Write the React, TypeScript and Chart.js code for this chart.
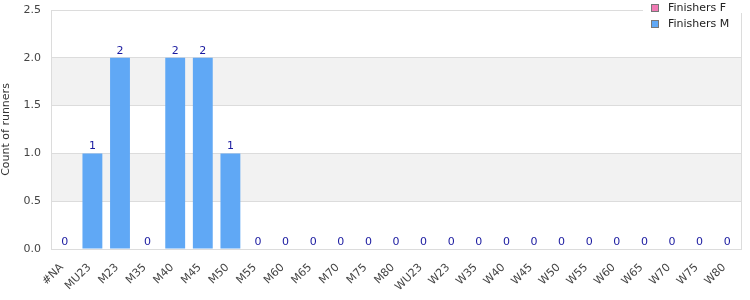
import React, { useEffect, useRef } from "react";
import { Chart, registerables } from "chart.js";

Chart.register(...registerables);

const categories = ["#NA", "MU23", "M23", "M35", "M40", "M45", "M50", "M55", "M60", "M65", "M70", "M75", "M80", "WU23", "W23", "W35", "W40", "W45", "W50", "W55", "W60", "W65", "W70", "W75", "W80"];
const finishersF = [0, 0, 0, 0, 0, 0, 0, 0, 0, 0, 0, 0, 0, 0, 0, 0, 0, 0, 0, 0, 0, 0, 0, 0, 0];
const finishersM = [0, 1, 2, 0, 2, 2, 1, 0, 0, 0, 0, 0, 0, 0, 0, 0, 0, 0, 0, 0, 0, 0, 0, 0, 0];
const seriesNames = ["Finishers F", "Finishers M"];
const seriesColors = ["#f07ab4", "#60a8f5"];
const yTitle = "Count of runners";

const FONT = "'DejaVu Sans', Verdana, sans-serif";

const bandsPlugin = {
  id: "bands",
  beforeDraw(chart: any) {
    const { ctx, chartArea } = chart;
    const y = chart.scales.y;
    ctx.save();
    ctx.fillStyle = "#f2f2f2";
    const bands = [[0.5, 1.0], [1.5, 2.0]];
    for (const [a, b] of bands) {
      const y1 = y.getPixelForValue(b);
      const y2 = y.getPixelForValue(a);
      ctx.fillRect(chartArea.left, y1, chartArea.right - chartArea.left, y2 - y1);
    }
    ctx.restore();
  },
  afterDraw(chart: any) {
    const { ctx, chartArea } = chart;
    ctx.save();
    ctx.strokeStyle = "#dcdcdc";
    ctx.lineWidth = 1;
    ctx.strokeRect(Math.round(chartArea.left) + 0.5, Math.round(chartArea.top) + 0.5, Math.round(chartArea.right - chartArea.left), Math.round(chartArea.bottom - chartArea.top));
    // legend background
    ctx.fillStyle = "#ffffff";
    ctx.fillRect(643, 0, 107, 13);
    ctx.font = "11px " + FONT;
    ctx.textBaseline = "middle";
    ctx.textAlign = "left";
    seriesNames.forEach((name, i) => {
      const cy = 8 + i * 16;
      ctx.fillStyle = seriesColors[i];
      ctx.fillRect(651, cy - 4, 8, 8);
      ctx.strokeStyle = "#777777";
      ctx.strokeRect(651.5, cy - 3.5, 7, 7);
      ctx.fillStyle = "#222222";
      ctx.fillText(name, 668, cy);
    });
    ctx.restore();
  },
  afterDatasetsDraw(chart: any) {
    const { ctx } = chart;
    const x = chart.scales.x;
    const y = chart.scales.y;
    ctx.save();
    ctx.font = "11px " + FONT;
    ctx.fillStyle = "#1a1aa0";
    ctx.textAlign = "center";
    ctx.textBaseline = "alphabetic";
    categories.forEach((c, i) => {
      const total = finishersF[i] + finishersM[i];
      const px = x.getPixelForValue(i);
      const py = y.getPixelForValue(total) - 4;
      ctx.fillText(String(total), px, py);
    });
    ctx.restore();
  },
};

export default function App() {
  const ref = useRef<HTMLCanvasElement>(null);
  useEffect(() => {
    document.body.style.margin = "0";
    const chart = new Chart(ref.current!, {
      type: "bar",
      data: {
        labels: categories,
        datasets: [
          { label: seriesNames[0], data: finishersF, backgroundColor: seriesColors[0], borderWidth: 0 },
          { label: seriesNames[1], data: finishersM, backgroundColor: seriesColors[1], borderWidth: 0 },
        ],
      },
      options: {
        animation: false,
        responsive: false,
        layout: { padding: { top: 10, right: 9, left: 0, bottom: 0 } },
        plugins: { legend: { display: false }, tooltip: { enabled: false } },
        scales: {
          x: {
            stacked: true,
            grid: { display: false, drawTicks: false },
            border: { display: false },
            ticks: { font: { family: FONT, size: 11 }, color: "#444", maxRotation: 45, minRotation: 45, padding: 12, labelOffset: -3, autoSkip: false },
            afterFit(s: any) { s.height = 51; s.paddingLeft = 0; s.paddingRight = 0; s.paddingTop = 0; s.paddingBottom = 0; },
          },
          y: {
            stacked: true,
            min: 0,
            max: 2.5,
            grid: { color: "#dcdcdc", drawTicks: false },
            border: { display: false },
            ticks: { stepSize: 0.5, font: { family: FONT, size: 11 }, color: "#444", padding: 10, callback: (v: any) => Number(v).toFixed(1) },
            title: { display: true, text: yTitle, font: { family: FONT, size: 11 }, color: "#333", padding: 0 },
            afterFit(s: any) { s.width = 51; s.paddingLeft = 0; s.paddingRight = 0; s.paddingTop = 0; s.paddingBottom = 0; },
          },
        },
      },
      plugins: [bandsPlugin],
    });
    return () => chart.destroy();
  }, []);
  return (
    <div style={{ width: 750, height: 300 }}>
      <canvas ref={ref} width={750} height={300} style={{ display: "block" }} />
    </div>
  );
}
